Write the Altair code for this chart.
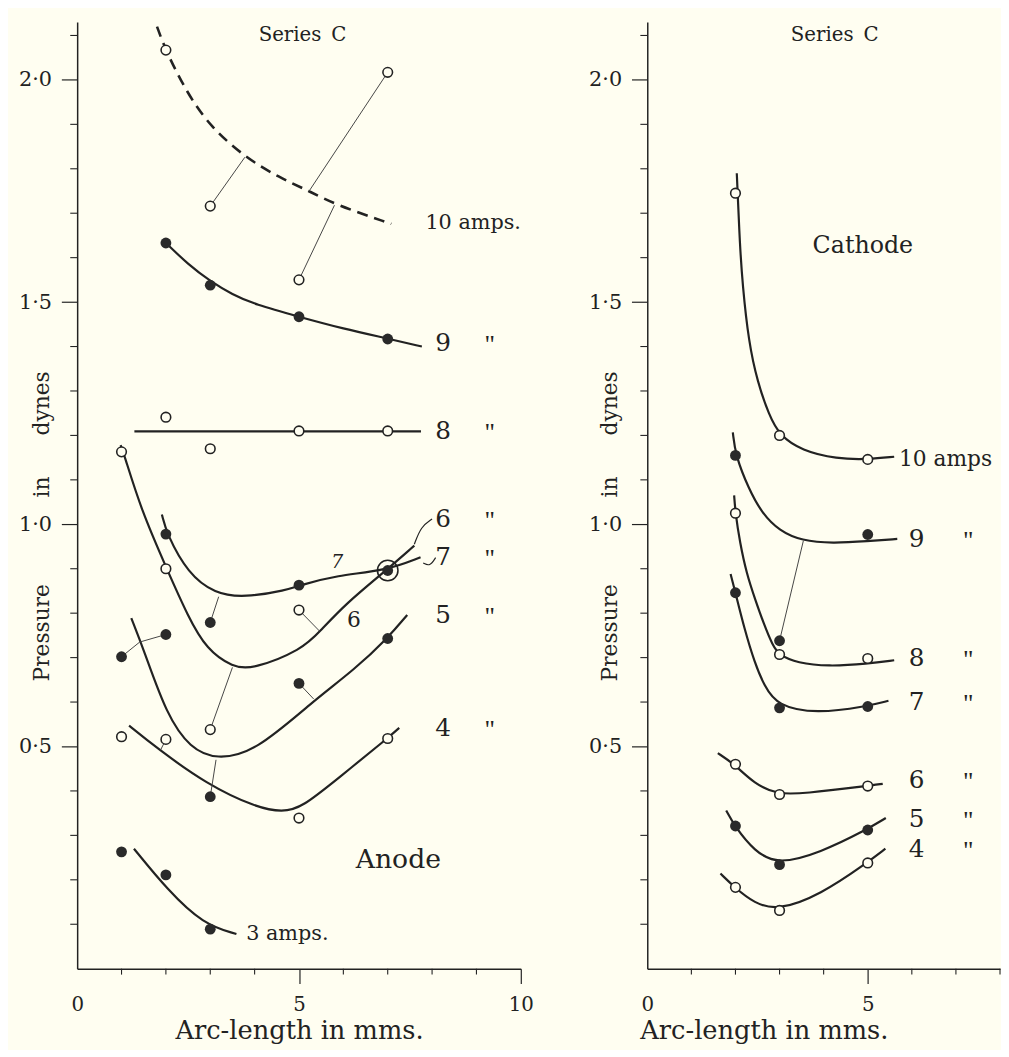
import altair as alt
import pandas as pd

BG = "#FFFEF1"
INK = "#222222"
FONT = "DejaVu Serif"

# ---------------- Anode (left panel) ----------------
A10_CURVE = [(1.8, 2.12), (2.0, 2.065), (2.48, 1.97), (3.0, 1.895), (3.78, 1.826),
             (4.56, 1.780), (5.23, 1.75), (5.8, 1.72), (7.08, 1.676)]
A9_CURVE = [(2.0, 1.633), (2.5, 1.585), (3.0, 1.547), (3.5, 1.517), (4.0, 1.495),
            (5.0, 1.467), (6.0, 1.44), (7.0, 1.418), (7.77, 1.40)]
A8_CURVE = [(1.29, 1.209), (7.75, 1.209)]
A7_CURVE = [(1.91, 1.022), (2.02, 0.978), (2.5, 0.889), (3.1, 0.844), (3.77, 0.835),
            (4.73, 0.852), (5.0, 0.862), (5.84, 0.885), (6.97, 0.896), (7.74, 0.926)]
A6_CURVE = [(0.98, 1.178), (1.04, 1.163), (1.45, 1.03), (2.02, 0.9), (2.5, 0.792),
            (2.92, 0.718), (3.51, 0.678), (3.96, 0.674), (5.07, 0.718), (5.47, 0.759),
            (6.06, 0.822), (6.96, 0.896), (7.6, 0.952)]
A5_CURVE = [(1.22, 0.789), (1.5, 0.718), (2.02, 0.570), (2.55, 0.496), (3.14, 0.47),
            (4.03, 0.489), (5.29, 0.6), (6.26, 0.674), (7.0, 0.744), (7.44, 0.796)]
A4_CURVE = [(1.17, 0.547), (1.8, 0.496), (2.92, 0.415), (4.03, 0.363), (4.63, 0.352),
            (5.07, 0.363), (5.9, 0.43), (6.99, 0.518), (7.26, 0.542)]
A3_CURVE = [(1.28, 0.27), (2.03, 0.178), (2.84, 0.1), (3.59, 0.078)]

A10_OPEN = [(2, 2.067), (3, 1.716), (5, 1.55), (7, 2.017)]
A9_FILLED = [(2, 1.633), (3, 1.538), (5, 1.467), (7, 1.417)]
A8_OPEN = [(2, 1.241), (3, 1.170), (5, 1.21), (7, 1.21)]
A7_FILLED = [(2, 0.978), (3, 0.779), (5, 0.863), (7, 0.896)]
A6_OPEN = [(1, 1.163), (2, 0.9), (3, 0.538), (5, 0.807)]
A6_RING = [(7, 0.896)]
A5_FILLED = [(1, 0.702), (2, 0.752), (3, 0.387), (5, 0.642), (7, 0.743)]
A4_OPEN = [(1, 0.522), (2, 0.516), (5, 0.339), (7, 0.518)]
A3_FILLED = [(1, 0.263), (2, 0.211), (3, 0.089)]

A_LEADERS = [(3.0, 1.716, 3.78, 1.826), (7.0, 2.017, 5.23, 1.750), (5.0, 1.550, 5.80, 1.718),
             (3.0, 0.779, 3.19, 0.837), (5.0, 0.807, 5.47, 0.759), (3.0, 0.538, 3.50, 0.678),
             (3.0, 0.387, 3.13, 0.470), (5.0, 0.642, 5.33, 0.607), (1.0, 0.702, 1.41, 0.735),
             (2.0, 0.752, 1.41, 0.735), (2.0, 0.516, 1.88, 0.492)]
A_ARROW_6 = [(8.0, 1.012), (7.75, 0.995), (7.6, 0.955)]
A_ARROW_7 = [(8.08, 0.925), (7.95, 0.905), (7.8, 0.913)]

A_NUM_LABELS = ["9", "8", "6", "7", "5", "4"]
A_NUM_Y = [1.407, 1.209, 1.012, 0.926, 0.796, 0.541]
A_NUM_X = 8.07
A_DITTO_X = 9.3

# ---------------- Cathode (right panel) ----------------
C10_CURVE = [(2.03, 1.79), (2.05, 1.745), (2.1, 1.63), (2.16, 1.54), (2.3, 1.41),
             (2.5, 1.32), (2.76, 1.246), (3.0, 1.2), (3.5, 1.166), (4.3, 1.147),
             (5.0, 1.146), (5.6, 1.152)]
C9_CURVE = [(1.94, 1.207), (2.0, 1.155), (2.3, 1.08), (2.6, 1.025), (3.0, 0.985),
            (3.5, 0.963), (4.2, 0.957), (5.0, 0.962), (5.67, 0.967)]
C8_CURVE = [(1.97, 1.065), (2.0, 1.025), (2.1, 0.96), (2.25, 0.89), (2.45, 0.83),
            (2.65, 0.774), (2.84, 0.728), (3.0, 0.705), (3.4, 0.688), (4.1, 0.68),
            (5.0, 0.686), (5.6, 0.694)]
C7_CURVE = [(1.89, 0.888), (2.0, 0.846), (2.2, 0.766), (2.43, 0.69), (2.65, 0.637),
            (2.95, 0.591), (3.84, 0.574), (4.96, 0.59), (5.47, 0.603)]
C6_CURVE = [(1.6, 0.485), (1.98, 0.46), (2.43, 0.416), (2.95, 0.392), (3.54, 0.394),
            (4.98, 0.411), (5.34, 0.416)]
C5_CURVE = [(1.79, 0.356), (1.98, 0.321), (2.43, 0.264), (2.96, 0.234), (3.92, 0.261),
            (4.96, 0.312), (5.41, 0.339)]
C4_CURVE = [(1.66, 0.214), (1.98, 0.183), (2.43, 0.147), (2.96, 0.131), (3.92, 0.166),
            (4.98, 0.238), (5.4, 0.27)]

C10_OPEN = [(2, 1.745), (3, 1.2), (5, 1.146)]
C9_FILLED = [(2, 1.155), (3, 0.738), (5, 0.977)]
C8_OPEN = [(2, 1.025), (3, 0.707), (5, 0.698)]
C7_FILLED = [(2, 0.846), (3, 0.587), (5, 0.59)]
C6_OPEN = [(2, 0.46), (3, 0.392), (5, 0.411)]
C5_FILLED = [(2, 0.321), (3, 0.234), (5, 0.312)]
C4_OPEN = [(2, 0.183), (3, 0.131), (5, 0.238)]

C_LEADERS = [(3.0, 0.738, 3.54, 0.963)]

C_NUM_LABELS = ["9", "8", "7", "6", "5", "4"]
C_NUM_Y = [0.967, 0.698, 0.599, 0.424, 0.337, 0.268]
C_NUM_X = 5.93
C_DITTO_X = 7.28

# y-axis title words (rotated), placed along the axis
YTITLE_WORDS = ["Pressure", "in", "dynes"]
YTITLE_Y = [0.756, 1.084, 1.272]

Y_MINOR = [0.1, 0.2, 0.3, 0.4, 0.6, 0.7, 0.8, 0.9, 1.1, 1.2, 1.3, 1.4, 1.6, 1.7, 1.8, 1.9, 2.1]
A_X_MINOR = [1, 2, 3, 4, 6, 7, 8, 9]
C_X_MINOR = [1, 2, 3, 4, 6, 7, 8]

Y_DOMAIN = [0, 2.13]
H = 958
A_W, C_W = 449, 357


def curves_df(curves):
    rows = []
    for name, pts in curves.items():
        for i, (x, y) in enumerate(pts):
            rows.append({"series": name, "order": i, "x": x, "y": y})
    return pd.DataFrame(rows)


def pts_df(pts):
    return pd.DataFrame([{"x": x, "y": y} for x, y in pts])


def seg_df(segs):
    return pd.DataFrame([{"x": a, "y": b, "x2": c, "y2": d} for a, b, c, d in segs])


def make_encoders(xmax, xvals, title_x):
    xs = alt.Scale(domain=[0, xmax], nice=False, zero=False)
    ys = alt.Scale(domain=Y_DOMAIN, nice=False, zero=False)
    xaxis = alt.Axis(values=xvals, tickSize=15, tickWidth=1.2, tickColor=INK,
                     tickOpacity={"condition": {"test": "datum.value == 0", "value": 0}, "value": 1},
                     domainColor=INK, domainWidth=1.5, labelFont=FONT, labelFontSize=20,
                     labelColor=INK, labelPadding=11, grid=False, labelFlush=False,
                     title="Arc-length in mms.", titleFont=FONT, titleFontSize=26,
                     titleFontWeight="normal", titleColor=INK, titlePadding=4, titleX=title_x)
    yaxis = alt.Axis(values=[0.5, 1.0, 1.5, 2.0], tickSize=16, tickWidth=1.2, tickColor=INK,
                     domainColor=INK, domainWidth=1.5, labelFont=FONT, labelFontSize=21,
                     labelColor=INK, labelPadding=10, grid=False,
                     labelExpr="replace(format(datum.value, '.1f'), '.', '\u00b7')",
                     title=None)

    def X(f="x"):
        return alt.X(f"{f}:Q", scale=xs, axis=xaxis)

    def Y(f="y"):
        return alt.Y(f"{f}:Q", scale=ys, axis=yaxis)

    return X, Y


def panel(X, Y, width, curves, dashed, opens, filleds, rings, leaders, arrows,
          nums, nums_y, num_x, ditto_x, texts, x_minor, ytitle_dx):
    layers = []
    # minor ticks
    layers.append(alt.Chart(pd.DataFrame({"y": Y_MINOR})).mark_rule(color=INK, strokeWidth=1.1)
                  .encode(y=Y(), x=alt.value(0), x2=alt.value(-7)))
    layers.append(alt.Chart(pd.DataFrame({"x": x_minor})).mark_rule(color=INK, strokeWidth=1.1)
                  .encode(x=X(), y=alt.value(H), y2=alt.value(H + 6)))
    # y-axis title words
    layers.append(alt.Chart(pd.DataFrame({"t": YTITLE_WORDS, "y": YTITLE_Y}))
                  .mark_text(font=FONT, fontSize=22, color=INK, angle=270, align="center",
                             baseline="middle")
                  .encode(y=Y(), x=alt.value(ytitle_dx), text="t:N"))
    # curves
    layers.append(alt.Chart(curves_df(curves)).mark_line(color=INK, strokeWidth=2.2,
                                                         interpolate="basis")
                  .encode(x=X(), y=Y(), detail="series:N", order="order:Q"))
    if dashed:
        layers.append(alt.Chart(curves_df(dashed)).mark_line(color=INK, strokeWidth=2.6,
                                                             strokeDash=[11, 7],
                                                             interpolate="basis")
                      .encode(x=X(), y=Y(), detail="series:N", order="order:Q"))
    if arrows:
        layers.append(alt.Chart(curves_df(arrows)).mark_line(color=INK, strokeWidth=1.2,
                                                             interpolate="basis")
                      .encode(x=X(), y=Y(), detail="series:N", order="order:Q"))
    # leader lines
    layers.append(alt.Chart(seg_df(leaders)).mark_rule(color="#444444", strokeWidth=1.0)
                  .encode(x=X(), y=Y(), x2="x2:Q", y2="y2:Q"))
    # points
    layers.append(alt.Chart(pts_df(opens)).mark_point(shape="circle", filled=True, fill=BG,
                                                      stroke=INK, strokeWidth=1.6, size=95,
                                                      opacity=1)
                  .encode(x=X(), y=Y()))
    layers.append(alt.Chart(pts_df(filleds)).mark_point(shape="circle", filled=True,
                                                        color="#2a2a2a", size=120, opacity=1)
                  .encode(x=X(), y=Y()))
    if rings:
        layers.append(alt.Chart(pts_df(rings)).mark_point(shape="circle", filled=False,
                                                          color=INK, strokeWidth=1.6,
                                                          size=430, opacity=1)
                      .encode(x=X(), y=Y()))
    # numeric labels + ditto marks
    ndf = pd.DataFrame({"t": nums, "y": nums_y, "x": [num_x] * len(nums),
                        "xd": [ditto_x] * len(nums), "d": ['"'] * len(nums)})
    layers.append(alt.Chart(ndf).mark_text(font=FONT, fontSize=25, color=INK, align="left",
                                           baseline="middle")
                  .encode(x=X(), y=Y(), text="t:N"))
    layers.append(alt.Chart(ndf).mark_text(font="Liberation Serif", fontSize=26, color=INK,
                                           align="center", baseline="middle", dy=2)
                  .encode(x=X("xd"), y=Y(), text="d:N"))
    for df, size, align, style in texts:
        layers.append(alt.Chart(df).mark_text(font=FONT, fontSize=size, color=INK, align=align,
                                              baseline="middle", fontStyle=style)
                      .encode(x=X(), y=Y(), text="t:N"))
    return alt.layer(*layers).properties(width=width, height=H)


def tdf(t, x, y):
    return pd.DataFrame({"t": [t], "x": [x], "y": [y]})


AX, AY = make_encoders(10, [0, 5, 10], A_W / 2)
left = panel(
    AX, AY, A_W,
    {"9": A9_CURVE, "8": A8_CURVE, "7": A7_CURVE, "6": A6_CURVE, "5": A5_CURVE,
     "4": A4_CURVE, "3": A3_CURVE},
    {"10": A10_CURVE},
    A10_OPEN + A8_OPEN + A6_OPEN + A4_OPEN,
    A9_FILLED + A7_FILLED + A5_FILLED + A3_FILLED,
    A6_RING, A_LEADERS, {"a6": A_ARROW_6, "a7": A_ARROW_7},
    A_NUM_LABELS, A_NUM_Y, A_NUM_X, A_DITTO_X,
    [(tdf("10 amps.", 7.85, 1.678), 21, "left", "normal"),
     (tdf("3 amps.", 3.81, 0.078), 21, "left", "normal"),
     (tdf("Anode", 7.24, 0.244), 27, "center", "normal"),
     (tdf("Series\u2002C", 5.08, 2.10), 20, "center", "normal"),
     (tdf("7", 5.86, 0.915), 19, "center", "italic"),
     (tdf("6", 6.24, 0.785), 22, "center", "normal")],
    A_X_MINOR, -36)

CX, CY = make_encoders(8, [0, 5], 118)
right = panel(
    CX, CY, C_W,
    {"10": C10_CURVE, "9": C9_CURVE, "8": C8_CURVE, "7": C7_CURVE, "6": C6_CURVE,
     "5": C5_CURVE, "4": C4_CURVE},
    None,
    C10_OPEN + C8_OPEN + C6_OPEN + C4_OPEN,
    C9_FILLED + C7_FILLED + C5_FILLED,
    None, C_LEADERS, None,
    C_NUM_LABELS, C_NUM_Y, C_NUM_X, C_DITTO_X,
    [(tdf("10 amps", 5.71, 1.146), 22, "left", "normal"),
     (tdf("Cathode", 4.89, 1.625), 24, "center", "normal"),
     (tdf("Series\u2002C", 4.25, 2.10), 20, "center", "normal")],
    C_X_MINOR, -38)

chart = alt.hconcat(left, right, spacing=55, background=BG,
                    padding={"left": 10, "top": 7, "right": 0, "bottom": 0}
                    ).configure_view(stroke=None)

chart.save("out.html", embed_options={"renderer": "svg", "actions": False})
